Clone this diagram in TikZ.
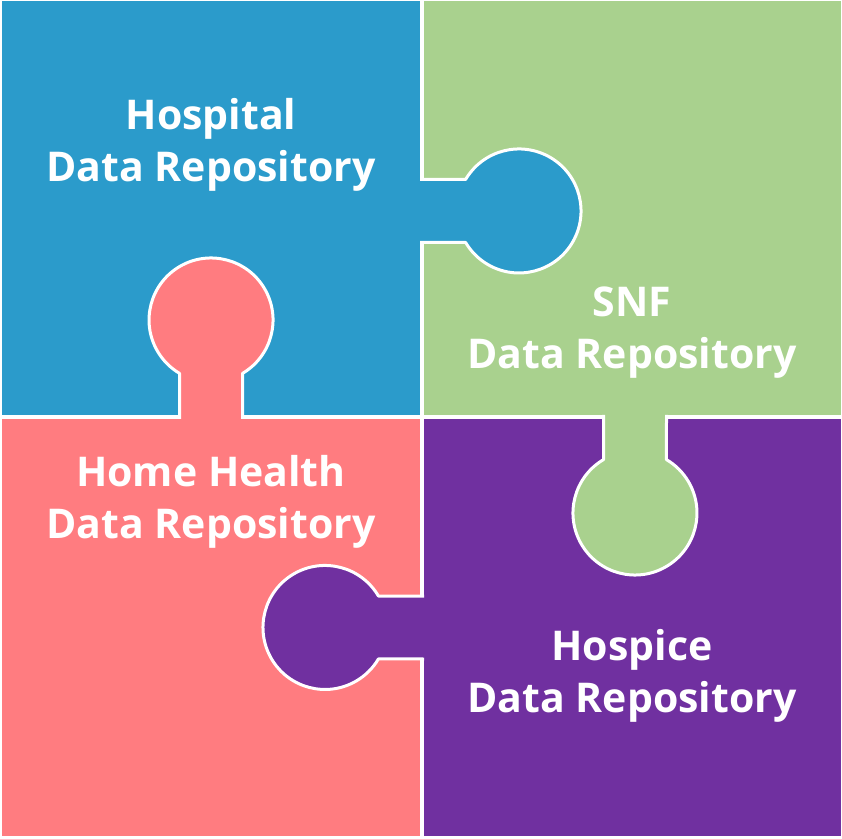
\documentclass[tikz,border=0pt]{standalone}
\usepackage{fontspec}
\setmainfont{Open Sans}
\definecolor{hospblue}{HTML}{2B9BCB}
\definecolor{snfgreen}{HTML}{A9D18E}
\definecolor{homepink}{HTML}{FF7C80}
\definecolor{hospicepurple}{HTML}{7030A0}
\begin{document}
\begin{tikzpicture}[
            x=1pt, y=1pt,
            knob_rim/.style={white, line width=3pt, line join=round},
            label/.style={text=white, align=center, font=\fontsize{41}{52}\selectfont\bfseries}
        ]

        % Page frame
        \useasboundingbox (0,0) rectangle (842,838);

        % Square bodies of the four pieces
        \fill[hospblue] (2,423) rectangle (420,837);
        \fill[snfgreen] (424,423) rectangle (841,837);
        \fill[homepink] (2,2) rectangle (420,419);
        \fill[hospicepurple] (424,2) rectangle (841,419);

        % Hospital knob, pointing right
        \fill[hospblue] (414,658.5) -- (465.6,658.5) arc[start angle=149.5, end angle=-149.5, radius=62] -- (414,595.5) -- cycle;
        \draw[knob_rim] (420,658.5) -- (465.6,658.5) arc[start angle=149.5, end angle=-149.5, radius=62] -- (420,595.5);

        % Home Health knob, pointing up
        \fill[homepink] (242.5,413) -- (242.5,464.6) arc[start angle=-59.5, end angle=239.5, radius=62] -- (179.5,413) -- cycle;
        \draw[knob_rim] (242.5,419) -- (242.5,464.6) arc[start angle=-59.5, end angle=239.5, radius=62] -- (179.5,419);

        % SNF knob, pointing down
        \fill[snfgreen] (603.5,429) -- (603.5,378.4) arc[start angle=120.5, end angle=419.5, radius=62] -- (666.5,429) -- cycle;
        \draw[knob_rim] (603.5,423) -- (603.5,378.4) arc[start angle=120.5, end angle=419.5, radius=62] -- (666.5,423);

        % Hospice knob, pointing left
        \fill[hospicepurple] (430,242) -- (378.4,242) arc[start angle=30.5, end angle=329.5, radius=62] -- (430,179) -- cycle;
        \draw[knob_rim] (424,242) -- (378.4,242) arc[start angle=30.5, end angle=329.5, radius=62] -- (424,179);

        % Piece labels
        \node[label] (hospital) at (211,693) {Hospital\\Data Repository};
        \node[label] (snf) at (632,505) {SNF\\Data Repository};
        \node[label] (homehealth) at (211,336) {Home Health\\Data Repository};
        \node[label] (hospice) at (632,162) {Hospice\\Data Repository};

    \end{tikzpicture}
\end{document}
